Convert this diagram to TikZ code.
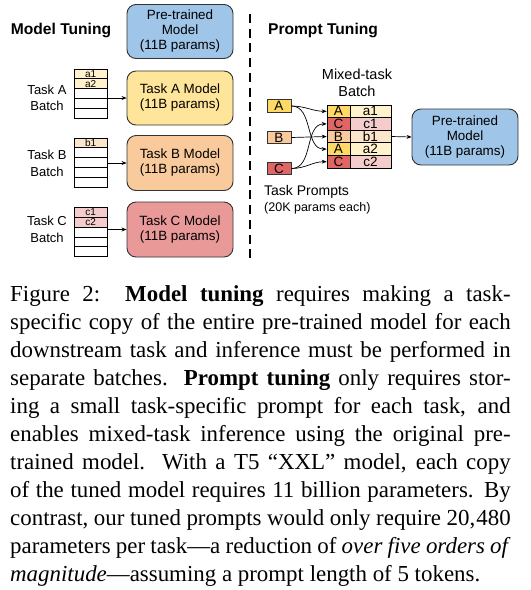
\documentclass[tikz,border=0pt]{standalone}
\usepackage{fontspec}
\setmainfont{Liberation Sans}
\newfontfamily\capfont[Ligatures=TeX]{Liberation Serif}
\usetikzlibrary{arrows.meta}
\definecolor{blueM}{HTML}{9FC5E8}
\definecolor{yelM}{HTML}{FFE599}
\definecolor{oraM}{HTML}{F9CB9C}
\definecolor{redM}{HTML}{EA9999}
\definecolor{yelL}{HTML}{FFF2CC}
\definecolor{oraL}{HTML}{FCE5CD}
\definecolor{redL}{HTML}{F4CCCC}
\definecolor{yelD}{HTML}{FFD966}
\definecolor{oraD}{HTML}{F9CB9C}
\definecolor{redD}{HTML}{E06666}
\definecolor{edge}{HTML}{333333}
\newlength{\capw}\setlength{\capw}{500.5pt}
\newcommand{\capline}[1]{\hbox to \capw{#1}}
\begin{document}
\begin{tikzpicture}[x=1pt,y=-1pt,
  model/.style={draw=edge, line width=0.9pt, rounded corners=9pt, minimum width=106pt, minimum height=54pt, align=center, font=\fontsize{13.4}{15}\selectfont, inner sep=0pt},
  row/.style={draw=black, line width=0.7pt, minimum width=32.5pt, minimum height=9.8pt, inner sep=0pt, font=\fontsize{10}{10}\selectfont},
  mcell/.style={draw=black, line width=0.7pt, minimum height=12.6pt, inner sep=0pt, font=\fontsize{13.5}{13.5}\selectfont},
  pbox/.style={draw=edge, line width=0.8pt, minimum width=24pt, minimum height=12.5pt, inner sep=0pt, font=\fontsize{13.5}{13.5}\selectfont},
  lab/.style={align=center, font=\fontsize{13}{16.5}\selectfont, inner sep=0pt},
  ttl/.style={font=\fontsize{15.6}{18}\selectfont\bfseries, inner sep=0pt},
  arr/.style={-{Stealth[length=5pt,width=4pt]}, line width=0.7pt},
]
\path[use as bounding box, fill=white] (0,0) rectangle (531,590);

% titles
\node[ttl, anchor=base] (t1) at (61,34.5) {Model Tuning};
\node[ttl, anchor=base] (t2) at (323,34.5) {Prompt Tuning};

% divider
\coordinate (dtop) at (249.5,14);
\coordinate (dbot) at (249.5,263);
\draw[line width=2pt, dash pattern=on 9pt off 5.7pt] (dtop) -- (dbot);

% left models
\node[model, fill=blueM] (mP0) at (180,31.5) {Pre-trained\\Model\\(11B params)};
\node[model, fill=yelM] (mA) at (180,98) {Task A Model\\(11B params)};
\node[model, fill=oraM, minimum height=55pt] (mB) at (180,163) {Task B Model\\(11B params)};
\node[model, fill=redM, minimum height=55pt] (mC) at (180,229.5) {Task C Model\\(11B params)};

% left batches
\foreach \i/\t/\c in {1/a1/yelL,2/a2/yelL,3//white,4//white,5//white}
  \node[row, fill=\c] (tA\i) at (90.75,{69+9.8*\i-4.9}) {\t};
\foreach \i/\t/\c in {1/b1/oraL,2//white,3//white,4//white,5//white}
  \node[row, fill=\c] (tB\i) at (90.75,{138+9.8*\i-4.9}) {\t};
\foreach \i/\t/\c in {1/c1/redL,2/c2/redL,3//white,4//white,5//white}
  \node[row, fill=\c] (tC\i) at (90.75,{207.5+9.8*\i-4.9}) {\t};

\node[lab] (lA) at (47,98) {Task A\\Batch};
\node[lab] (lB) at (47,163.5) {Task B\\Batch};
\node[lab] (lC) at (47,229.5) {Task C\\Batch};

\draw[arr] (tA3.east |- mA.west) -- (mA.west);
\draw[arr] (tB3.east |- mB.west) -- (mB.west);
\draw[arr] (tC3.east |- mC.west) -- (mC.west);

% right side
\node[lab, font=\fontsize{14.5}{17}\selectfont] (mix) at (357,82.5) {Mixed-task\\Batch};
\foreach \i/\k/\v/\d/\l in {1/A/a1/yelD/yelL,2/C/c1/redD/redL,3/B/b1/oraD/oraL,4/A/a2/yelD/yelL,5/C/c2/redD/redL}{
  \node[mcell, fill=\d, minimum width=23pt] (k\i) at (338.5,{105+12.6*\i-6.3}) {\k};
  \node[mcell, fill=\l, minimum width=41pt] (v\i) at (370.5,{105+12.6*\i-6.3}) {\v};
}
\node[pbox, fill=yelD] (pA) at (279,106) {A};
\node[pbox, fill=oraD] (pB) at (279,137.5) {B};
\node[pbox, fill=redD] (pC) at (279,168.5) {C};

\draw[arr] (pA.east) to[out=0,in=180] (k1.west);
\draw[arr] (pA.east) to[out=0,in=180] (k4.west);
\draw[arr] (pB.east) -- (k3.west);
\draw[arr] (pC.east) to[out=0,in=180] (k2.west);
\draw[arr] (pC.east) to[out=0,in=180] (k5.west);

\node[model, fill=blueM, minimum height=56pt] (mP) at (465,137) {Pre-trained\\Model\\(11B params)};
\draw[arr] (v3.east) -- (mP.west);

\node[anchor=base west, inner sep=0pt, font=\fontsize{14}{16}\selectfont] (tp1) at (264,195) {Task Prompts};
\node[anchor=base west, inner sep=0pt, font=\fontsize{12.5}{15}\selectfont] (tp2) at (264,211) {(20K params each)};

% caption
\node[anchor=base west, inner sep=0pt] (cap) at (10,301) {\parbox[t]{\capw}{\capfont\fontsize{22.9}{28}\selectfont
\capline{Figure 2:\ \ \textbf{Model tuning} requires making a task-}
\capline{specific copy of the entire pre-trained model for each}
\capline{downstream task and inference must be performed in}
\capline{separate batches.\ \ \textbf{Prompt tuning} only requires stor-}
\capline{ing a small task-specific prompt for each task, and}
\capline{enables mixed-task inference using the original pre-}
\capline{trained model.\ \ With a T5 ``XXL'' model, each copy}
\capline{of the tuned model requires 11 billion parameters. By}
\capline{contrast, our tuned prompts would only require 20,\kern0.05em480}
\capline{parameters per task---a reduction of \textit{over five orders of}}
\hbox{\textit{magnitude}---assuming a prompt length of 5 tokens.}}};
\end{tikzpicture}
\end{document}
